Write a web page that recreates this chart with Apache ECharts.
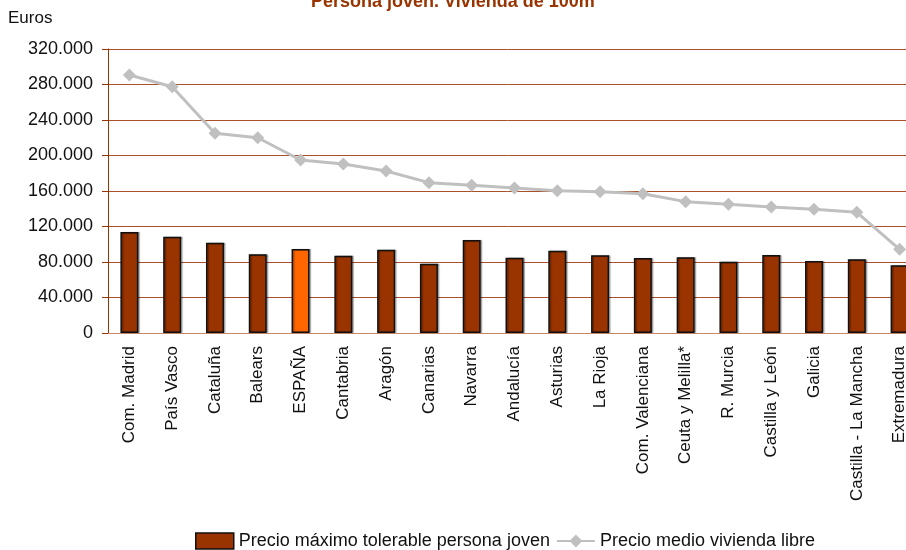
<!DOCTYPE html>
<html>
<head>
<meta charset="utf-8">
<script src="https://cdn.jsdelivr.net/npm/echarts@6/dist/echarts.min.js"></script>
<style>
  html, body { margin: 0; padding: 0; background: #fff; }
  #chart { width: 906px; height: 550px; }
</style>
</head>
<body>
<div id="chart"></div>
<script>
var regiones = ['Com. Madrid', 'País Vasco', 'Cataluña', 'Balears', 'ESPAÑA', 'Cantabria', 'Aragón',
    'Canarias', 'Navarra', 'Andalucía', 'Asturias', 'La Rioja', 'Com. Valenciana', 'Ceuta y Melilla*',
    'R. Murcia', 'Castilla y León', 'Galicia', 'Castilla - La Mancha', 'Extremadura'];
var precioTolerable = [113800, 108500, 101800, 88600, 94600, 87100, 93900, 78100, 104800, 84900,
    92800, 87500, 84500, 85300, 80400, 87900, 81100, 83000, 76300];
var precioLibre = [290700, 277500, 225000, 220000, 194900, 190400, 182500, 169400, 166400, 163400,
    160400, 159200, 157000, 148000, 145000, 142000, 139400, 136000, 94300];

var fuente = 'Liberation Sans, Arial, sans-serif';
var marron = '#993300';
var lineaGrid = '#a9502a';

var chart = echarts.init(document.getElementById('chart'));

// ESPAÑA va en naranja
var barras = [];
for (var i = 0; i < regiones.length; i++) {
    if (regiones[i] == 'ESPAÑA') {
        barras.push({ value: precioTolerable[i], itemStyle: { color: '#ff6600' } });
    } else {
        barras.push(precioTolerable[i]);
    }
}

var option = {
    animation: false,
    textStyle: { fontFamily: fuente },
    title: {
        text: 'Persona joven. Vivienda de 100m',
        left: 306,
        top: -12,
        textStyle: { color: marron, fontSize: 18, fontWeight: 'bold', fontFamily: fuente }
    },
    graphic: [{
        type: 'text',
        left: 8,
        top: 10,
        style: { text: 'Euros', fill: '#111', font: '17px ' + fuente }
    }],
    legend: {
        left: 190,
        top: 527,
        itemWidth: 38,
        itemHeight: 16,
        itemGap: 6,
        textStyle: { fontSize: 18, color: '#111', fontFamily: fuente },
        data: [
            { name: 'Precio máximo tolerable persona joven', icon: 'rect', itemStyle: { color: marron, borderColor: '#111', borderWidth: 1.5 } },
            { name: 'Precio medio vivienda libre' }
        ]
    },
    grid: {
        left: 108,
        top: 49,
        width: 813,
        height: 284,
        outerBoundsMode: 'none'
    },
    xAxis: {
        type: 'category',
        data: regiones,
        axisLine: { lineStyle: { color: '#c9876a', width: 1 } },
        axisTick: { show: false },
        axisLabel: {
            rotate: 90,
            margin: 13,
            interval: 0,
            fontSize: 17,
            color: '#111',
            fontFamily: fuente
        }
    },
    yAxis: {
        type: 'value',
        min: 0,
        max: 320000,
        interval: 40000,
        axisLine: { show: true, lineStyle: { color: marron, width: 1 } },
        axisTick: { show: true, length: 6, lineStyle: { color: marron } },
        splitLine: { lineStyle: { color: lineaGrid, width: 1 } },
        axisLabel: {
            margin: 15,
            fontSize: 18,
            color: '#111',
            fontFamily: fuente,
            formatter: function (v) {
                return v == 0 ? '0' : (v / 1000) + '.000';
            }
        }
    },
    series: [
        {
            name: 'Precio máximo tolerable persona joven',
            type: 'bar',
            barWidth: 18,
            data: barras,
            itemStyle: {
                color: marron,
                borderColor: '#111',
                borderWidth: 1.5,
                shadowColor: 'rgba(0,0,0,0.3)',
                shadowOffsetX: 1.5,
                shadowOffsetY: 0,
                shadowBlur: 1
            }
        },
        {
            name: 'Precio medio vivienda libre',
            type: 'line',
            data: precioLibre,
            symbol: 'diamond',
            symbolSize: 13,
            lineStyle: { color: '#c0c0c0', width: 3 },
            itemStyle: { color: '#c0c0c0' }
        }
    ]
};

chart.setOption(option);
</script>
</body>
</html>
